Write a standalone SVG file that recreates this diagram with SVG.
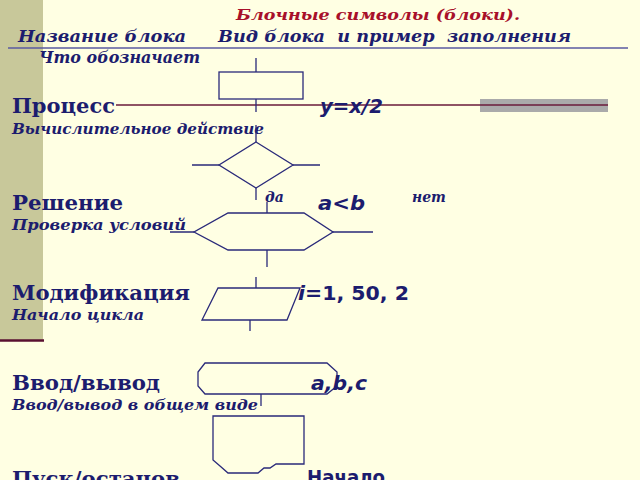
<svg xmlns="http://www.w3.org/2000/svg" width="640" height="480" viewBox="0 0 640 480">
<style>
.h{font-family:"DejaVu Serif",serif;font-weight:bold;font-style:italic;fill:#1c1c6e}
.b{font-family:"DejaVu Serif",serif;font-weight:bold;fill:#1c1c6e;font-size:20px}
.s{font-family:"DejaVu Serif",serif;font-weight:bold;font-style:italic;fill:#1c1c6e;font-size:14px}
.e{font-family:"DejaVu Sans",sans-serif;font-weight:bold;fill:#1c1c6e;font-size:20px}
.sh{fill:none;stroke:#2a2a7a;stroke-width:1.3}
</style>
<rect width="640" height="480" fill="#ffffe3"/>
<rect x="0" y="0" width="43" height="340" fill="#c8c89a"/>
<line x1="0" y1="340.5" x2="44" y2="340.5" stroke="#5a1030" stroke-width="2.5"/>
<text x="236" y="20" class="h" font-size="15" textLength="284" lengthAdjust="spacingAndGlyphs" style="fill:#a8102a">Блочные символы (блоки).</text>
<text x="18" y="42" class="h" font-size="16" textLength="168" lengthAdjust="spacingAndGlyphs">Название блока</text>
<text x="218" y="42" class="h" font-size="16" textLength="353" lengthAdjust="spacingAndGlyphs" xml:space="preserve">Вид блока  и пример  заполнения</text>
<line x1="8" y1="48" x2="628" y2="48" stroke="#5a5aa0" stroke-width="1.5"/>
<text x="39" y="63" class="h" font-size="16" textLength="161" lengthAdjust="spacingAndGlyphs">Что обозначает</text>
<rect x="480" y="99" width="128" height="13" fill="#aaaaaa"/>
<line x1="116" y1="105" x2="608" y2="105" stroke="#6a1a3a" stroke-width="1.5"/>
<g id="process">
<rect x="219" y="72" width="84" height="27" class="sh"/>
<path d="M256 58V72M256 99V112" class="sh"/>
<text x="12" y="113" class="b" textLength="103" lengthAdjust="spacingAndGlyphs">Процесс</text>
<text x="320" y="113" class="e" font-style="italic" textLength="63" lengthAdjust="spacingAndGlyphs">y=x/2</text>
<text x="12" y="134" class="s" textLength="252" lengthAdjust="spacingAndGlyphs">Вычислительное действие</text>
</g>
<g id="decision">
<path d="M256 142L293 165L256 188L219 165Z" class="sh"/>
<path d="M192 165H219M293 165H320M256 125V142M256 188V200" class="sh"/>
<text x="12" y="210" class="b" textLength="111" lengthAdjust="spacingAndGlyphs">Решение</text>
<text x="265" y="202" class="s" font-size="8">да</text>
<text x="318" y="210" class="e" font-style="italic" textLength="47" lengthAdjust="spacingAndGlyphs">a&lt;b</text>
<text x="412" y="202" class="s" font-size="8">нет</text>
<text x="12" y="230" class="s" textLength="174" lengthAdjust="spacingAndGlyphs">Проверка условий</text>
</g>
<g id="hexagon">
<path d="M228 213H304L333 232L304 250H228L194 232Z" class="sh"/>
<path d="M170 232H194M333 232H373M267 202V213M267 250V267" class="sh"/>
</g>
<g id="modification">
<path d="M218 288H300L287 320H202Z" class="sh"/>
<path d="M256 277V288M250 320V331" class="sh"/>
<text x="12" y="300" class="b" textLength="178" lengthAdjust="spacingAndGlyphs">Модификация</text>
<text x="298" y="300" class="e" textLength="111" lengthAdjust="spacingAndGlyphs"><tspan font-style="italic">i</tspan>=1, 50, 2</text>
<text x="12" y="320" class="s" textLength="132" lengthAdjust="spacingAndGlyphs">Начало цикла</text>
</g>
<g id="io">
<path d="M205 363H327L337 372V386L327 394H205L198 386V372Z" class="sh"/>
<path d="M261 394V406" class="sh"/>
<text x="12" y="390" class="b" textLength="148" lengthAdjust="spacingAndGlyphs">Ввод/вывод</text>
<text x="311" y="390" class="e" font-style="italic" textLength="56" lengthAdjust="spacingAndGlyphs">a,b,c</text>
<text x="12" y="410" class="s" textLength="246" lengthAdjust="spacingAndGlyphs">Ввод/вывод в общем виде</text>
</g>
<g id="start">
<path d="M213 416H304V464H276L270 468L264 468L258 473H228L220 466L213 460Z" class="sh"/>
<text x="12" y="486" class="b" textLength="168" lengthAdjust="spacingAndGlyphs">Пуск/останов</text>
<text x="307" y="484" class="e" font-size="17" textLength="78" lengthAdjust="spacingAndGlyphs">Начало</text>
</g>
</svg>
